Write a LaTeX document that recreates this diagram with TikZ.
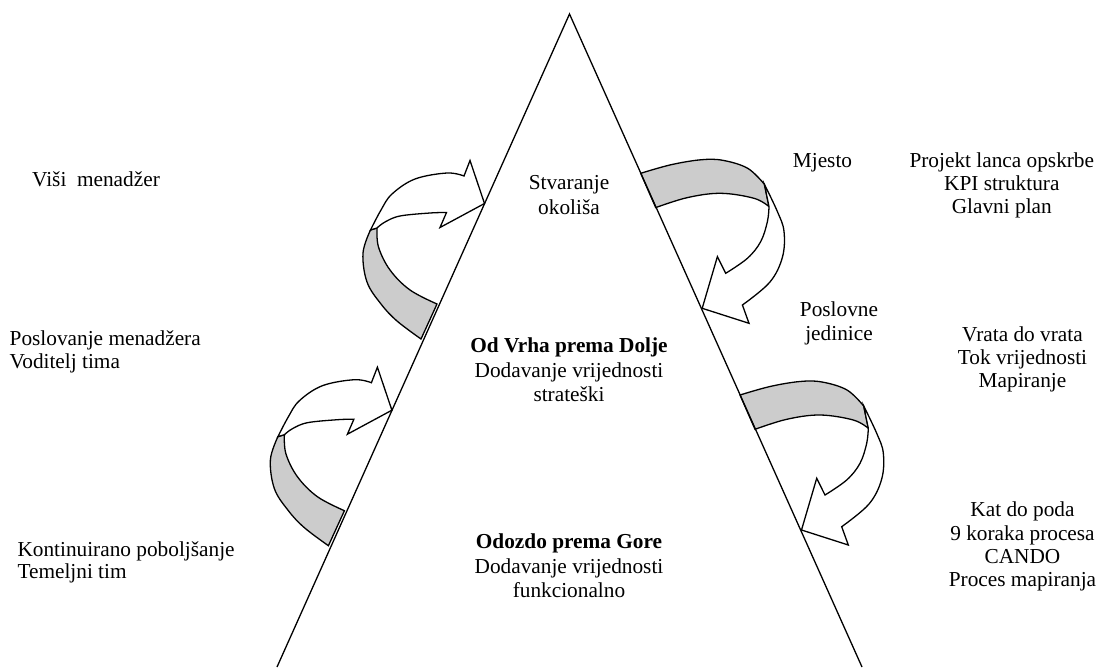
\documentclass[tikz,border=0pt]{standalone}
\usepackage{fontspec}
\setmainfont{Liberation Serif}
\begin{document}
\begin{tikzpicture}[x=1pt,y=-1pt,
  lbl/.style={inner sep=0pt, font=\fontsize{21.3}{23.5}\selectfont},
  lblb/.style={inner sep=0pt, font=\fontsize{21.3}{23.5}\selectfont\bfseries},
  edge/.style={line width=1.3pt, line join=miter},
  back/.style={edge, fill=black!20},
  front/.style={edge, fill=white},
  pics/larrow/.style={code={
    \draw[back] plot[smooth,tension=0.6] coordinates {(370.5,230) (363,253) (367,282) (381,304) (397,321) (421,339)}
      -- (437,304)
      -- plot[smooth,tension=0.6] coordinates {(437,304) (410,290) (390,270) (378.5,247) (377,228)} -- cycle;
    \draw[front] plot[smooth,tension=0.6] coordinates {(370.5,230) (381,210) (392,194) (415,179) (447,173) (464,176)}
      -- (470,160.5) -- (484.5,203.5) -- (440,227.5) -- (446.5,212.5)
      -- plot[smooth,tension=0.6] coordinates {(446.5,212.5) (430,213) (400,216) (385,222) (377,228)} -- cycle;
  }},
  pics/rarrow/.style={code={
    \draw[back] plot[smooth,tension=0.6] coordinates {(740,395) (770,386.5) (800,381.5) (822,382) (847,390) (863.7,406)}
      -- (868.3,428.3)
      -- plot[smooth,tension=0.6] coordinates {(868.3,428.3) (853.3,420) (820,415) (786.7,419.3) (755,429.3)} -- cycle;
    \draw[front] plot[smooth,tension=0.6] coordinates {(863.7,406) (876.7,433.3) (883.3,453) (881.7,479) (869,504) (841.7,526.7)}
      -- (848.3,545) -- (801.5,530) -- (816.7,478.3) -- (825,495)
      -- plot[smooth,tension=0.6] coordinates {(825,495) (846.7,480) (860,463.3) (866.7,443.3) (868.3,428.3)} -- cycle;
  }}
]
\useasboundingbox (0,0) rectangle (1097,667);

% arrows
\pic at (0,0) {larrow};
\pic at (-92.6,206.7) {larrow};
\pic at (0,0) {rarrow};
\pic at (-99.3,-221.7) {rarrow};

% triangle
\coordinate (apex) at (569.5,14);
\coordinate (bl) at (277,667);
\coordinate (br) at (862,667);
\draw[edge] (bl) -- (apex) -- (br);

% left texts
\node[lbl, anchor=base west] (vm) at (32,186) {Viši\ \ menadžer};
\node[lbl, anchor=base west] (pm1) at (9.5,345.3) {Poslovanje menadžera};
\node[lbl, anchor=base west] (pm2) at (9.5,368.7) {Voditelj tima};
\node[lbl, anchor=base west] (kp1) at (17.3,556) {Kontinuirano poboljšanje};
\node[lbl, anchor=base west] (kp2) at (17.3,578.7) {Temeljni tim};

% center texts
\node[lbl, anchor=base] (so1) at (569,189.3) {Stvaranje};
\node[lbl, anchor=base] (so2) at (569,214.3) {okoliša};
\node[lblb, anchor=base] (vd1) at (569,352.7) {Od Vrha prema Dolje};
\node[lbl, anchor=base] (vd2) at (569,377) {Dodavanje vrijednosti};
\node[lbl, anchor=base] (vd3) at (569,401) {strateški};
\node[lblb, anchor=base] (dg1) at (569,548.7) {Odozdo prema Gore};
\node[lbl, anchor=base] (dg2) at (569,573.3) {Dodavanje vrijednosti};
\node[lbl, anchor=base] (dg3) at (569,597) {funkcionalno};

% right texts
\node[lbl, anchor=base] (mj) at (822.5,167) {Mjesto};
\node[lbl, anchor=base] (pr1) at (1001.8,167) {Projekt lanca opskrbe};
\node[lbl, anchor=base] (pr2) at (1001.8,190) {KPI struktura};
\node[lbl, anchor=base] (pr3) at (1001.8,213.3) {Glavni plan};
\node[lbl, anchor=base] (pj1) at (839,316) {Poslovne};
\node[lbl, anchor=base] (pj2) at (839,340.3) {jedinice};
\node[lbl, anchor=base] (vv1) at (1022.5,341) {Vrata do vrata};
\node[lbl, anchor=base] (vv2) at (1022.5,364.3) {Tok vrijednosti};
\node[lbl, anchor=base] (vv3) at (1022.5,387.7) {Mapiranje};
\node[lbl, anchor=base] (kd1) at (1022.5,516.7) {Kat do poda};
\node[lbl, anchor=base] (kd2) at (1022.5,540.3) {9 koraka procesa};
\node[lbl, anchor=base] (kd3) at (1022.5,563.3) {CANDO};
\node[lbl, anchor=base] (kd4) at (1022.5,586.7) {Proces mapiranja};
\end{tikzpicture}
\end{document}
